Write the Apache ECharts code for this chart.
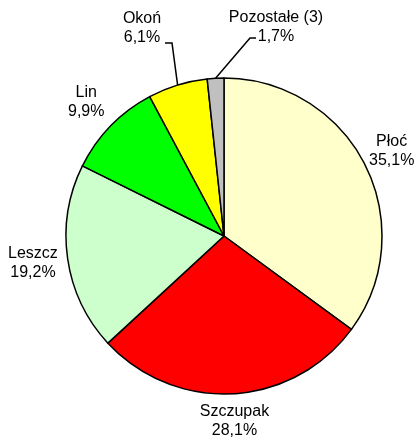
<!DOCTYPE html>
<html>
<head>
<meta charset="utf-8">
<script src="https://cdn.jsdelivr.net/npm/echarts@6/dist/echarts.min.js"></script>
<style>
  html, body { margin: 0; padding: 0; background: #fff; }
  #main { width: 417px; height: 439px; }
</style>
</head>
<body>
<div id="main"></div>
<script>
// dane
var names = ['Płoć', 'Szczupak', 'Leszcz', 'Lin', 'Okoń', 'Pozostałe (3)'];
var values = [35.1, 28.1, 19.2, 9.9, 6.1, 1.7];
var colors = ['#FFFFCC', '#FF0000', '#CCFFCC', '#00FF00', '#FFFF00', '#C0C0C0'];

var cx = 224, cy = 236, R = 158;
var labelDist = [188, 185, 193, 192];
var total = 0;
for (var i = 0; i < values.length; i++) total += values[i];

function midAngle(idx) {
    var before = 0;
    for (var j = 0; j < idx; j++) before += values[j];
    return (before + values[idx] / 2) / total * 2 * Math.PI;
}

function fmt(v) {
    return v.toFixed(1).replace('.', ',') + '%';
}

var pieData = [];
for (var k = 0; k < names.length; k++) {
    pieData.push({
        name: names[k],
        value: values[k],
        itemStyle: { color: colors[k] },
        labelLine: { show: k >= 4 }
    });
}

var myChart = echarts.init(document.getElementById('main'));
var option = {
    animation: false,
    series: [{
        type: 'pie',
        center: [cx, cy],
        radius: R,
        startAngle: 90,
        clockwise: true,
        data: pieData,
        itemStyle: { borderColor: '#000', borderWidth: 1.5 },
        emphasis: { disabled: true },
        label: {
            position: 'outside',
            formatter: function (p) { return p.name + '\n' + fmt(p.value); },
            fontFamily: 'Liberation Sans, Arial, sans-serif',
            fontSize: 16,
            lineHeight: 19,
            color: '#000',
            align: 'center',
            overflow: 'none'
        },
        labelLine: {
            show: false,
            lineStyle: { color: '#000', width: 1.5 }
        },
        labelLayout: function (p) {
            var i = p.dataIndex;
            var a = midAngle(i);
            var ex = cx + R * Math.sin(a), ey = cy - R * Math.cos(a);
            if (i === 4) {
                return { x: 142, y: 28, align: 'center', verticalAlign: 'middle',
                    labelLinePoints: [[ex, ey], [172, 43], [165, 43]] };
            }
            if (i === 5) {
                return { x: 276, y: 27, align: 'center', verticalAlign: 'middle',
                    labelLinePoints: [[ex, ey], [250, 38], [256, 38]] };
            }
            var d = labelDist[i];
            return {
                x: cx + d * Math.sin(a),
                y: cy - d * Math.cos(a),
                align: 'center',
                verticalAlign: 'middle'
            };
        }
    }]
};
myChart.setOption(option);
</script>
</body>
</html>
